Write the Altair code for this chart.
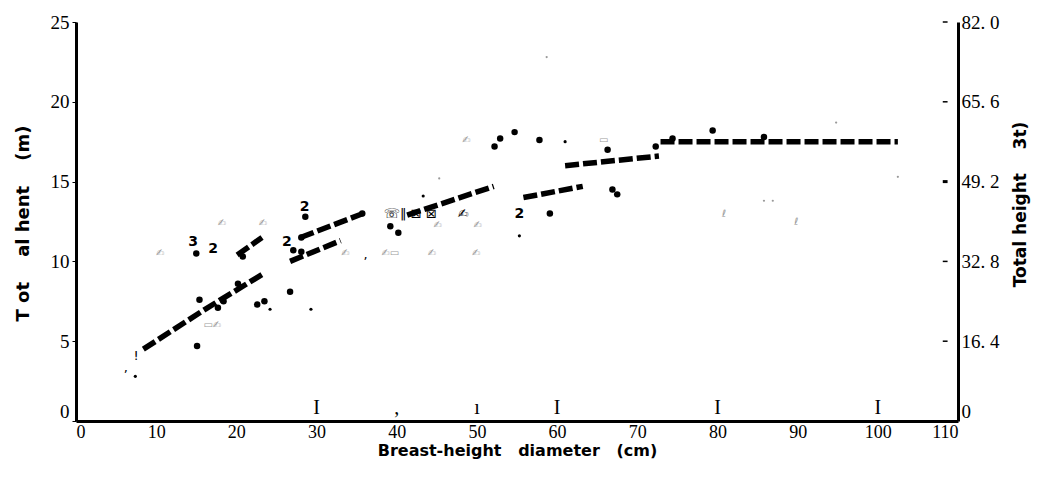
import altair as alt
import pandas as pd

# ---- dashed fitted curves (segment id, diameter cm, height m)
curve_seg = ["A", "A", "A", "B", "B", "C", "C", "D", "D", "E", "E", "F", "F", "G", "G", "H", "H"]
curve_x = [8.4, 16.1, 23.6, 20.1, 23.2, 26.7, 33.0, 28.0, 35.8, 41.3, 52.1, 55.8, 63.2, 61.0, 72.7, 72.9, 102.5]
curve_y = [4.5, 7.0, 9.3, 10.4, 11.5, 10.0, 11.3, 11.5, 13.0, 12.9, 14.7, 14.0, 14.7, 16.0, 16.6, 17.5, 17.5]

# ---- observed trees (large dots)
tree_x = [15.0, 28.6, 27.1, 28.1, 28.1, 35.7, 39.2, 40.2, 20.8, 20.2, 15.4, 18.4, 17.7, 22.6, 23.5,
          26.7, 15.1, 52.2, 52.9, 54.7, 57.8, 66.3, 72.3, 74.4, 59.1, 66.9, 67.5, 79.4, 85.8]
tree_y = [10.5, 12.8, 10.7, 10.6, 11.5, 13.0, 12.2, 11.8, 10.3, 8.6, 7.6, 7.5, 7.1, 7.3, 7.5,
          8.1, 4.7, 17.2, 17.7, 18.1, 17.6, 17.0, 17.2, 17.7, 13.0, 14.5, 14.2, 18.2, 17.8]

# ---- small dots
small_x = [24.2, 29.3, 55.3, 61.0, 43.3, 7.4]
small_y = [7.0, 7.0, 11.6, 17.5, 14.1, 2.8]

# ---- count labels
count_txt = ["3", "2", "2", "2", "2"]
count_x = [14.6, 17.1, 28.5, 26.3, 55.3]
count_y = [11.2, 10.8, 13.4, 11.2, 13.0]

# ---- faint specks
speck_x = [45.3, 58.7, 94.8, 102.5, 85.8, 86.9]
speck_y = [15.2, 22.8, 18.7, 15.3, 13.8, 13.8]

# ---- faint glyph marks
VS = "\ufe0e"
faint_txt = ["✍" + VS, "✍" + VS, "✍" + VS, "▭✍" + VS, "✍" + VS, "✍" + VS + "▭", "✍" + VS,
             "✍" + VS, "✍" + VS, "✍" + VS, "✍" + VS, "▭", "ℓ", "ℓ"]
faint_x = [18.2, 23.3, 10.5, 17.0, 33.6, 39.2, 44.4, 49.9, 45.1, 50.1, 48.7, 65.8, 80.8, 89.8]
faint_y = [12.4, 12.4, 10.5, 6.0, 10.5, 10.5, 10.5, 10.5, 12.3, 12.3, 17.6, 17.6, 13.0, 12.5]

# ---- dark glyph marks
dark_txt = ["☏", "‖", "⊠", "⊠", "✍" + VS, "!", ",", ","]
dark_x = [39.4, 40.8, 42.4, 44.3, 48.3, 7.5, 6.2, 36.1]
dark_y = [13.0, 13.0, 13.0, 13.0, 13.0, 4.1, 3.3, 10.4]

# ---- inward bottom marks
bmark_txt = ["I", ",", "ı", "I", "I", "I"]
bmark_x = [30, 40, 50, 60, 80, 100]
bmark_y = [0.8, 0.8, 0.8, 0.8, 0.8, 0.8]

# ---- right-side tick dashes (m)
rtick_y = [25, 20, 15, 10, 5]
ft_ticks = [0, 16.4, 32.8, 49.2, 65.6, 82.0]

NB = "\u00a0"
x_title = "Breast-height" + NB * 3 + "diameter" + NB * 3 + "(cm)"
y_title = "T" + NB + "ot" + NB * 4 + "al" + NB + "hent" + NB * 4 + "(m)"
r_title = "Total" + NB + "height" + NB * 4 + "3t)"

SERIF = "Liberation Serif"
SANS = "DejaVu Sans"

xs = alt.Scale(domain=[0, 110], nice=False)
ys = alt.Scale(domain=[0, 25], nice=False)

curves = pd.DataFrame({"seg": curve_seg, "x": curve_x, "y": curve_y})
trees = pd.DataFrame({"x": tree_x, "y": tree_y})
smalls = pd.DataFrame({"x": small_x, "y": small_y})
counts = pd.DataFrame({"t": count_txt, "x": count_x, "y": count_y})
specks = pd.DataFrame({"x": speck_x, "y": speck_y})
faint = pd.DataFrame({"t": faint_txt, "x": faint_x, "y": faint_y})
dark = pd.DataFrame({"t": dark_txt, "x": dark_x, "y": dark_y})
bmarks = pd.DataFrame({"t": bmark_txt, "x": bmark_x, "y": bmark_y})
rticks = pd.DataFrame({"y": rtick_y, "x": [108.1] * 5, "x2": [108.7] * 5,
                       "w": [1.5, 1.5, 3, 1.5, 1.5]})
ft = pd.DataFrame({"ft": ft_ticks})

x_axis = alt.Axis(
    values=list(range(0, 111, 10)), tickSize=0, domainWidth=3, domainColor="black",
    labelFont=SERIF, labelFontSize=18, labelColor="black", labelPadding=2,
    title=x_title, titleFont=SANS, titleFontWeight="bold",
    titleFontSize=16, titleColor="black", titleY=29, titleBaseline="middle", grid=False,
)
y_axis = alt.Axis(
    values=[0, 5, 10, 15, 20, 25], tickSize=4, tickColor="black", domainWidth=3,
    domainColor="black", labelFont=SERIF, labelFontSize=19, labelColor="black",
    labelPadding=3,
    labelBaseline=alt.condition("datum.value == 0", alt.value("bottom"), alt.value("middle")),
    title=y_title, titleFont=SANS, titleFontWeight="bold", titleFontSize=18,
    titleColor="black", titleAngle=270, titleX=-53, titleY=201, titleBaseline="middle",
    titleAlign="center", grid=False,
)

X = alt.X("x:Q", scale=xs, axis=x_axis)
Y = alt.Y("y:Q", scale=ys, axis=y_axis)

line = alt.Chart(curves).mark_line(
    color="black", strokeWidth=5.5, strokeDash=[14, 4], strokeCap="butt"
).encode(x=X, y=Y, detail="seg:N")

def pts(df, size, color):
    return alt.Chart(df).mark_point(filled=True, shape="circle", size=size, color=color,
                                    opacity=1).encode(x=X, y=Y)

def txt(df, size, color, font=SANS, weight="normal"):
    return alt.Chart(df).mark_text(fontSize=size, color=color, font=font, fontWeight=weight,
                                   baseline="middle", align="center").encode(
        x=X, y=Y, text="t:N")

tree_layer = pts(trees, 42, "black")
small_layer = pts(smalls, 10, "black")
speck_layer = pts(specks, 5, "#999999")
count_layer = txt(counts, 14, "black", weight="bold")
faint_layer = txt(faint, 10, "#9a9a9a")
dark_layer = txt(dark, 13, "black")
bmark_layer = txt(bmarks, 20, "black", font=SERIF)
rtick_layer = alt.Chart(rticks).mark_rule(color="black").encode(
    x=X, x2="x2:Q", y=Y,
    strokeWidth=alt.StrokeWidth("w:Q", legend=None, scale=None))

meters = alt.layer(line, tree_layer, small_layer, speck_layer, count_layer, faint_layer,
                   dark_layer, bmark_layer, rtick_layer)

feet = alt.Chart(ft).mark_point(opacity=0).encode(
    y=alt.Y("ft:Q", scale=alt.Scale(domain=[0, 82], nice=False), axis=alt.Axis(
        orient="right", values=ft_ticks, ticks=False, domainWidth=3, domainColor="black",
        labelFont=SERIF, labelFontSize=19, labelColor="black", labelPadding=3,
        labelExpr="datum.value == 0 ? '0' : replace(format(datum.value, '.1f'), '.', '. ')",
        labelBaseline=alt.condition("datum.value == 0", alt.value("bottom"), alt.value("middle")),
        title=r_title, titleFont=SANS, titleFontWeight="bold", titleFontSize=17,
        titleColor="black", titleAngle=270, titleX=62, titleY=182, titleBaseline="middle",
        titleAlign="center", grid=False))
)

chart = alt.layer(meters, feet).resolve_scale(y="independent").properties(
    width=882, height=399,
    padding={"left": 68, "top": 14, "right": 74, "bottom": 49},
    autosize=alt.AutoSizeParams(type="none"),
    background="white",
).configure_view(strokeWidth=0)

chart.save("out.html", embed_options={"renderer": "svg", "actions": False})
